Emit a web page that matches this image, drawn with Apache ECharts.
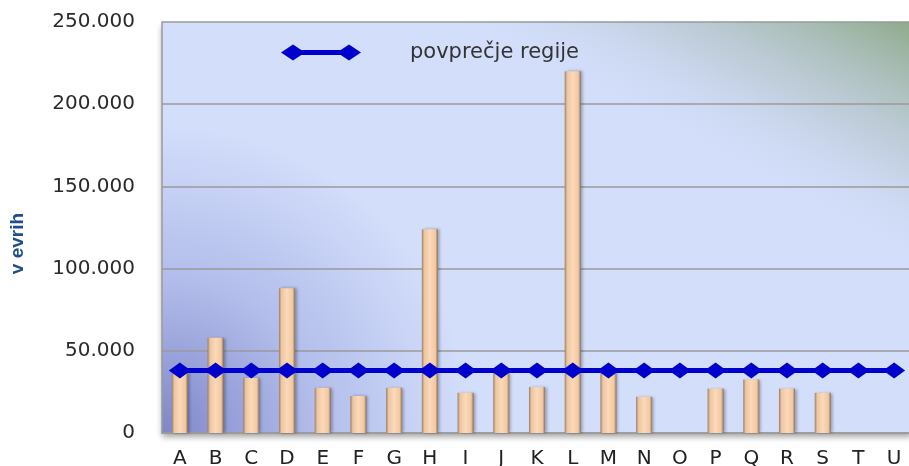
<!DOCTYPE html>
<html>
<head>
<meta charset="utf-8">
<script src="https://cdn.jsdelivr.net/npm/echarts@6/dist/echarts.min.js"></script>
<style>
  html, body { margin: 0; padding: 0; background: #fff; }
  #chart { width: 909px; height: 466px; }
</style>
</head>
<body>
<div id="chart"></div>
<script>
var kategorije = ['A','B','C','D','E','F','G','H','I','J','K','L','M','N','O','P','Q','R','S','T','U'];
var vrednosti = [37000, 58000, 33500, 88000, 27500, 22500, 27500, 124000, 24500, 36500, 28000, 220000, 37000, 22000, null, 27000, 32500, 27000, 24500, null, null];
var povprecje = [38000, 38000, 38000, 38000, 38000, 38000, 38000, 38000, 38000, 38000, 38000, 38000, 38000, 38000, 38000, 38000, 38000, 38000, 38000, 38000, 38000];
var yMax = 250000, yStep = 50000;

var myChart = echarts.init(document.getElementById('chart'));

var plot = { left: 162, top: 22, right: -3, bottom: 33, outerBoundsMode: 'none', containLabel: false };

var option = {
    animation: false,
    textStyle: { fontFamily: 'DejaVu Sans' },
    grid: [
        Object.assign({
            show: true,
            borderWidth: 0,
            backgroundColor: {
                type: 'radial', x: 0, y: 1, r: 0.75,
                colorStops: [
                    { offset: 0, color: '#7F87C7' },
                    { offset: 0.5, color: '#B2BDEB' },
                    { offset: 1, color: '#D3DEFB' }
                ]
            },
            shadowColor: 'rgba(0,0,0,0.35)',
            shadowBlur: 6,
            shadowOffsetY: 4
        }, plot),
        Object.assign({
            show: true,
            borderWidth: 0,
            backgroundColor: {
                type: 'linear', x: 0.86, y: 0.48, x2: 1, y2: 0,
                colorStops: [
                    { offset: 0, color: 'rgba(211,222,251,0)' },
                    { offset: 0.45, color: 'rgba(180,195,200,0.55)' },
                    { offset: 1, color: 'rgba(142,170,138,1)' }
                ]
            }
        }, plot)
    ],
    legend: {
        data: ['povprečje regije'],
        left: 276,
        top: 37,
        itemWidth: 80,
        itemHeight: 17,
        icon: 'path://M0,8L12,0L24,8L12,16Z M56,8L68,0L80,8L68,16Z M12,5.5L68,5.5L68,10.5L12,10.5Z',
        textStyle: { fontSize: 21, color: '#333', padding: [0, 0, 0, 44] }
    },
    xAxis: [
        {
            type: 'category',
            data: kategorije,
            axisLine: { lineStyle: { color: '#9a9a9a', width: 1.5 } },
            axisTick: { show: false },
            axisLabel: { fontSize: 20, color: '#222', margin: 16 }
        },
        { type: 'category', gridIndex: 1, show: false, data: kategorije }
    ],
    yAxis: [
        {
            type: 'value',
            min: 0,
            max: yMax,
            interval: yStep,
            name: 'v evrih',
            nameLocation: 'middle',
            nameRotate: 90,
            nameGap: 135,
            nameTextStyle: { fontFamily: 'Liberation Sans', fontWeight: 'bold', fontSize: 19, color: '#1F4E8A', padding: [0, 32, 0, 0] },
            axisLine: { show: true, lineStyle: { color: '#9a9a9a', width: 1.5 } },
            axisTick: { show: false },
            splitLine: { lineStyle: { color: '#9a9a9a', width: 1.5 } },
            axisLabel: {
                fontSize: 20,
                color: '#2a2a2a',
                margin: 27,
                formatter: function (v) {
                    return v === 0 ? '0' : (v / 1000) + '.000';
                }
            }
        },
        { type: 'value', gridIndex: 1, show: false, min: 0, max: yMax }
    ],
    series: [
        {
            name: 'vrednost',
            type: 'bar',
            data: vrednosti,
            barWidth: 16,
            itemStyle: {
                color: {
                    type: 'linear', x: 0, y: 0, x2: 1, y2: 0,
                    colorStops: [
                        { offset: 0, color: '#9E7C62' },
                        { offset: 0.15, color: '#EBC6A3' },
                        { offset: 0.5, color: '#FDD9B7' },
                        { offset: 0.85, color: '#F0C8A4' },
                        { offset: 1, color: '#8E7058' }
                    ]
                },
                shadowColor: 'rgba(0,0,0,0.3)',
                shadowBlur: 3,
                shadowOffsetX: 2
            }
        },
        {
            name: 'povprečje regije',
            type: 'line',
            data: povprecje,
            symbol: 'diamond',
            symbolSize: [22, 16],
            lineStyle: { color: '#0000CC', width: 5 },
            itemStyle: { color: '#0000CC' },
            z: 5
        }
    ]
};

myChart.setOption(option);
</script>
</body>
</html>
